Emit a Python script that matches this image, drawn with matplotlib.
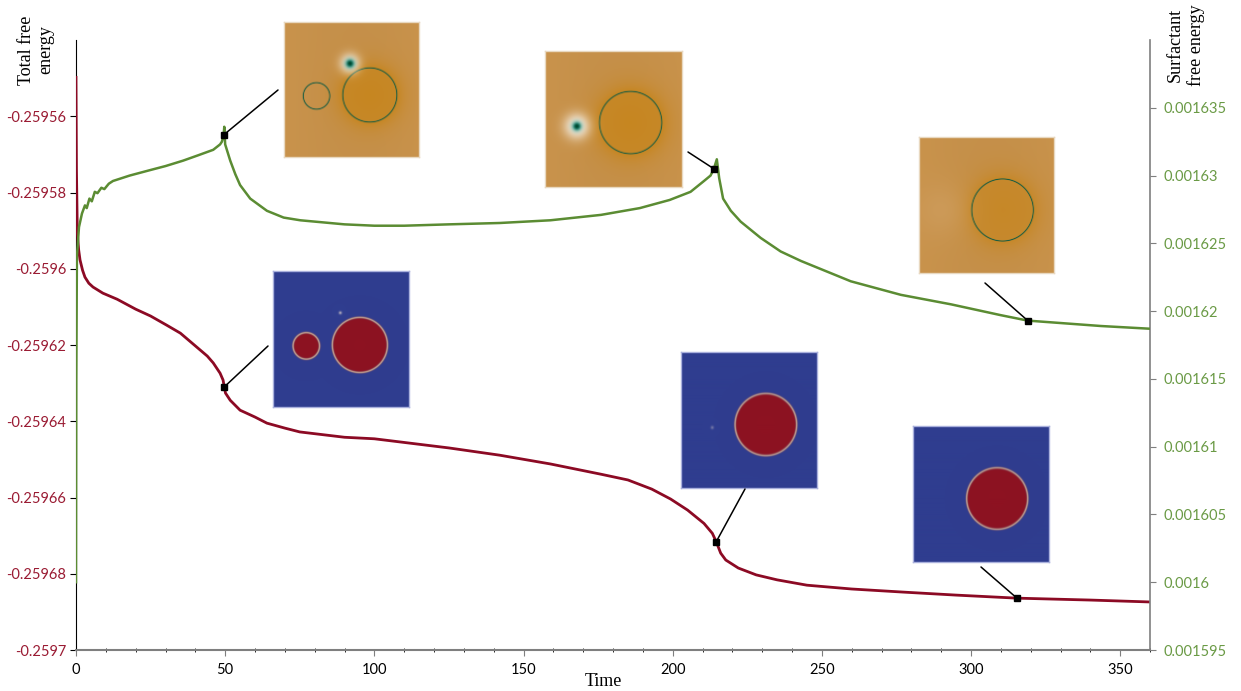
import numpy as np
import matplotlib
matplotlib.use("Agg")
import matplotlib.pyplot as plt
from matplotlib.patches import ConnectionPatch
from matplotlib.ticker import MultipleLocator

# ---------------- data ----------------
time_total = [0, 0.15, 0.45, 0.9, 1.35, 2.2, 3, 4.3, 5.7, 9, 13.8, 20, 25, 30.4, 35, 41.6,
              44, 46, 48.3, 49.3, 49.7, 50.1, 51.7, 55, 60, 64, 70, 75, 90, 100, 125, 142,
              159, 176, 185, 193, 199.3, 205, 210.5, 213.3, 214.6, 216.1, 217.8, 222, 228,
              235, 245, 260, 277, 295, 315.4, 340, 360]
total_energy = [-0.2595498, -0.2595741, -0.2595907, -0.2595951, -0.2595977, -0.2596004,
                -0.2596022, -0.2596038, -0.2596048, -0.2596064, -0.2596080, -0.2596106,
                -0.2596124, -0.2596148, -0.2596169, -0.2596213, -0.2596229, -0.2596247,
                -0.2596274, -0.2596292, -0.2596310, -0.2596326, -0.2596345, -0.2596371,
                -0.2596389, -0.2596405, -0.2596418, -0.2596428, -0.2596442, -0.2596446,
                -0.2596470, -0.2596489, -0.2596512, -0.2596539, -0.2596554, -0.2596578,
                -0.2596604, -0.2596633, -0.2596668, -0.2596694, -0.2596716, -0.2596746,
                -0.2596764, -0.2596785, -0.2596803, -0.2596816, -0.2596830, -0.2596840,
                -0.2596848, -0.2596856, -0.2596864, -0.2596869, -0.2596874]

time_surf = [0, 0.1, 0.3, 1.0, 2.0, 3.0, 3.6, 4.5, 5.3, 6.3, 7.2, 8.5, 9.5, 11, 12.4, 18,
             24.8, 30, 35.9, 41, 46, 48.3, 48.9, 49.5, 49.7, 50.0, 51.7, 53.4, 55, 58.4, 64,
             69.6, 75.2, 90, 100, 110, 125, 142, 159, 176, 189, 199, 206, 210.5, 212.7,
             213.8, 214.8, 215.6, 216.9, 219.5, 222.8, 229.5, 236.2, 243, 259.7, 276.5,
             293.3, 310, 319, 343.6, 360]
surf_energy = [0.0016000, 0.0016150, 0.0016240, 0.0016262, 0.0016272, 0.0016278, 0.0016276,
               0.0016283, 0.0016281, 0.0016288, 0.0016287, 0.0016291, 0.0016290, 0.0016294,
               0.0016296, 0.0016300, 0.0016304, 0.0016307, 0.0016311, 0.0016315, 0.0016319,
               0.0016323, 0.0016325, 0.0016330, 0.0016336, 0.0016323, 0.0016311, 0.0016301,
               0.0016293, 0.0016283, 0.0016274, 0.0016269, 0.0016267, 0.0016264, 0.0016263,
               0.0016263, 0.0016264, 0.0016265, 0.0016267, 0.0016271, 0.0016276, 0.0016282,
               0.0016288, 0.0016296, 0.0016300, 0.0016305, 0.0016312, 0.0016298, 0.0016283,
               0.0016274, 0.0016266, 0.0016254, 0.0016244, 0.0016237, 0.0016222, 0.0016212,
               0.0016205, 0.0016197, 0.0016193, 0.0016189, 0.0016187]

snap_times_total = [49.7, 214.6, 315.4]
snap_times_surf = [49.5, 213.8, 319.0]

left_ticks = [-0.2597, -0.25968, -0.25966, -0.25964, -0.25962, -0.2596, -0.25958, -0.25956]
left_tick_labels = ["-0.2597", "-0.25968", "-0.25966", "-0.25964", "-0.25962", "-0.2596",
                    "-0.25958", "-0.25956"]
right_ticks = [0.001595, 0.0016, 0.001605, 0.00161, 0.001615, 0.00162, 0.001625, 0.00163,
               0.001635]
right_tick_labels = ["0.001595", "0.0016", "0.001605", "0.00161", "0.001615", "0.00162",
                     "0.001625", "0.00163", "0.001635"]
x_ticks = [0, 50, 100, 150, 200, 250, 300, 350]

# ---------------- style ----------------
RED = "#8c0a24"
GREEN = "#5b8c33"
RED_TXT = "#9a1b33"
GREEN_TXT = "#6a9a45"
GRAY = "#7f7f7f"
TICKFONT = "Lato"
SERIF = "Liberation Serif"

W, H = 1241, 691
fig = plt.figure(figsize=(W / 100, H / 100), dpi=100)


def px_box(x0, y0, x1, y1):
    return [x0 / W, 1 - y1 / H, (x1 - x0) / W, (y1 - y0) / H]


ax = fig.add_axes(px_box(76, 40, 1150, 650))
ax2 = ax.twinx()

ax.plot(time_total, total_energy, color=RED, lw=2.0, zorder=3, solid_joinstyle="round")
ax2.plot(time_surf, surf_energy, color=GREEN, lw=1.8, zorder=3, solid_joinstyle="round")

ax.set_xlim(0, 360)
ax.set_ylim(-0.2597, -0.25954)
ax2.set_ylim(0.001595, 0.00164)

ax.set_yticks(left_ticks)
ax.set_yticklabels(left_tick_labels, color=RED_TXT, fontfamily=TICKFONT, fontsize=10.5)
ax2.set_yticks(right_ticks)
ax2.set_yticklabels(right_tick_labels, color=GREEN_TXT, fontfamily=TICKFONT, fontsize=10.5)
ax.set_xticks(x_ticks)
ax.set_xticklabels([str(v) for v in x_ticks], fontfamily=TICKFONT, fontsize=10.5)
ax.xaxis.set_minor_locator(MultipleLocator(10))

for a in (ax, ax2):
    a.spines["top"].set_visible(False)
    a.patch.set_visible(False)
ax.spines["left"].set_color("black")
ax.spines["bottom"].set_color(GRAY)
ax.spines["bottom"].set_linewidth(1.5)
ax2.spines["right"].set_color(GRAY)
ax2.spines["right"].set_linewidth(1.2)
ax2.spines["left"].set_visible(False)
ax2.spines["bottom"].set_visible(False)
ax.spines["right"].set_visible(False)
ax.tick_params(axis="y", colors="black", labelcolor=RED_TXT, length=4, pad=3)
ax.tick_params(axis="x", which="major", colors=GRAY, labelcolor="black", length=4, pad=5)
ax.tick_params(axis="x", which="minor", colors="black", length=3, direction="inout")
ax2.tick_params(axis="y", colors=GRAY, labelcolor=GREEN_TXT, length=4, pad=6)

fig.text(36 / W, 1 - 50 / H, "Total free\nenergy", rotation=90, ha="center", va="center",
         fontfamily=SERIF, fontsize=13, multialignment="center")
fig.text(1186 / W, 1 - 45 / H, "Surfactant\nfree energy", rotation=90, ha="center",
         va="center", fontfamily=SERIF, fontsize=13, multialignment="center")
fig.text(603 / W, 1 - 681 / H, "Time", ha="center", va="center", fontfamily=SERIF,
         fontsize=13)

# snapshot markers
mk_total = np.interp(snap_times_total, time_total, total_energy)
mk_surf = np.interp(snap_times_surf, time_surf, surf_energy)
ax.plot(snap_times_total, mk_total, "s", color="black", ms=5, zorder=5)
ax2.plot(snap_times_surf, mk_surf, "s", color="black", ms=5, zorder=5)


# ---------------- inset images ----------------
def orange_img(circles, dots=(), blobs=(), n=136):
    yy, xx = np.mgrid[0:n, 0:n] / (n - 1)
    bg = np.array([201, 147, 76]) / 255
    core = np.array([199, 133, 28]) / 255
    ringc = np.array([22, 92, 66]) / 255
    img = np.ones((n, n, 3)) * bg
    img = img * (1 - 0.02 * np.sin(3 * xx)[..., None])
    for cx, cy, r, glow in circles:
        d = np.hypot(xx - cx, yy - cy)
        w = np.where(d <= r, 1.0, np.exp(-(d - r) / (0.35 * r))) * glow
        w = np.where(d <= r, glow * (0.85 + 0.15 * (1 - d / r)), w)
        img = img * (1 - w[..., None]) + core * w[..., None]
    for bx, by, br in blobs:
        d = np.hypot(xx - bx, yy - by)
        w = 0.35 * np.exp(-(d / br) ** 2)
        img = img * (1 - w[..., None]) + np.array([214, 170, 115]) / 255 * w[..., None]
    for cx, cy, r, glow in circles:
        d = np.hypot(xx - cx, yy - cy)
        w = np.exp(-((d - r) * n / 0.6) ** 2)
        img = img * (1 - w[..., None]) + ringc * w[..., None]
    for dx, dy, hs in dots:
        d = np.hypot(xx - dx, yy - dy)
        halo = np.exp(-(d / hs) ** 2) * 0.95
        img = img * (1 - halo[..., None]) + np.array([1.0, 1.0, 1.0]) * halo[..., None]
        t = np.exp(-(d / 0.035) ** 2)
        img = img * (1 - t[..., None]) + np.array([0, 130, 110]) / 255 * t[..., None]
        c = np.exp(-(d / 0.02) ** 2)
        img = img * (1 - c[..., None]) + np.array([0, 70, 45]) / 255 * c[..., None]
    return np.clip(img, 0, 1)


def blue_img(circles, dots=(), n=136):
    yy, xx = np.mgrid[0:n, 0:n] / (n - 1)
    bg = np.array([47, 61, 143]) / 255
    red = np.array([141, 18, 33]) / 255
    rim = np.array([205, 175, 150]) / 255
    img = np.ones((n, n, 3)) * bg
    for cx, cy, r in circles:
        d = np.hypot(xx - cx, yy - cy)
        inside = 1 / (1 + np.exp((d - r) * n / 0.6))
        img = img * (1 - inside[..., None]) + red * inside[..., None]
        w = np.exp(-((d - r) * n / 1.0) ** 2) * 0.8
        img = img * (1 - w[..., None]) + rim * w[..., None]
    for dx, dy, s, a in dots:
        d = np.hypot(xx - dx, yy - dy)
        w = np.exp(-(d / s) ** 2) * a
        img = img * (1 - w[..., None]) + np.array([210, 200, 200]) / 255 * w[..., None]
    return np.clip(img, 0, 1)


insets = [
    (px_box(284, 22, 419, 157),
     orange_img([(0.239, 0.548, 0.099, 0.0), (0.637, 0.541, 0.202, 0.9)],
                dots=[(0.489, 0.306, 0.07)]), "#e8d8c0"),
    (px_box(545, 51, 682, 187),
     orange_img([(0.626, 0.53, 0.229, 0.9)], dots=[(0.231, 0.557, 0.09)]), "#e8d8c0"),
    (px_box(919, 137, 1054, 273),
     orange_img([(0.62, 0.537, 0.23, 0.75)], blobs=[(0.18, 0.537, 0.2)]), "#e8d8c0"),
    (px_box(273, 271, 409, 407),
     blue_img([(0.243, 0.551, 0.098), (0.64, 0.544, 0.204)],
              dots=[(0.495, 0.306, 0.012, 0.7)]), "#a9b0dc"),
    (px_box(681, 352, 817, 488),
     blue_img([(0.625, 0.537, 0.228)], dots=[(0.228, 0.559, 0.012, 0.4)]), "#a9b0dc"),
    (px_box(913, 426, 1049, 562),
     blue_img([(0.62, 0.537, 0.226)]), "#a9b0dc"),
]
for box, img, edge in insets:
    iax = fig.add_axes(box)
    iax.imshow(img, interpolation="bilinear", aspect="auto")
    iax.set_xticks([])
    iax.set_yticks([])
    for s in iax.spines.values():
        s.set_color(edge)
        s.set_linewidth(1.0)

# connector lines (marker -> inset)
surf_ends = [(278, 90), (688, 152), (985, 283)]
total_ends = [(268, 346), (745, 489), (981, 567)]
for t, v, (ex, ey) in zip(snap_times_surf, mk_surf, surf_ends):
    fig.add_artist(ConnectionPatch(xyA=(t, v), coordsA=ax2.transData,
                                   xyB=(ex, H - ey), coordsB="figure pixels",
                                   color="black", lw=1.1, zorder=4))
for t, v, (ex, ey) in zip(snap_times_total, mk_total, total_ends):
    fig.add_artist(ConnectionPatch(xyA=(t, v), coordsA=ax.transData,
                                   xyB=(ex, H - ey), coordsB="figure pixels",
                                   color="black", lw=1.1, zorder=4))

fig.savefig("out.png", dpi=100)
